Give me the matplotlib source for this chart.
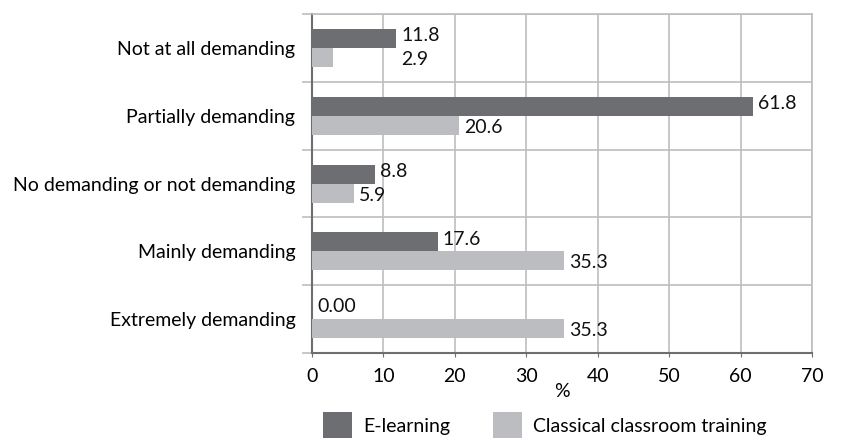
import numpy as np
import matplotlib.pyplot as plt
from matplotlib.patches import Patch

categories = ["Not at all demanding", "Partially demanding",
              "No demanding or not demanding", "Mainly demanding",
              "Extremely demanding"]
elearning = [11.8, 61.8, 8.8, 17.6, 0.0]
classroom = [2.9, 20.6, 5.9, 35.3, 35.3]
elearning_labels = ["11.8", "61.8", "8.8", "17.6", "0.00"]
classroom_labels = ["2.9", "20.6", "5.9", "35.3", "35.3"]

dark = "#6d6e71"
light = "#bcbdc0"
grid_col = "#bebebe"
fs = 14

plt.rcParams['font.family'] = ['Lato', 'DejaVu Sans']

fig = plt.figure(figsize=(8.53, 4.38), dpi=100)
ax = fig.add_axes([0.3658, 0.194, 0.5862, 0.774])

y = np.arange(len(categories))
h = 0.28
ax.barh(y - h / 2, elearning, height=h, color=dark, zorder=3)
ax.barh(y + h / 2, classroom, height=h, color=light, zorder=3)

off = 0.7
for i in range(len(categories)):
    xe = elearning[i] + off
    xc = classroom[i] + off
    # label for the short bar sits next to the longer one when they would collide
    if i == 0:
        xc = xe
    if i == 4:
        xe = off
    ax.text(xe, y[i] - h / 2 - 0.04, elearning_labels[i], va="center",
            ha="left", fontsize=fs, color="#111111", zorder=4)
    ax.text(xc, y[i] + h / 2 + 0.03, classroom_labels[i], va="center",
            ha="left", fontsize=fs, color="#111111", zorder=4)

ax.set_xlim(0, 70)
ax.set_ylim(len(categories) - 0.5, -0.5)
ax.set_xticks(np.arange(0, 71, 10))
ax.set_yticks(y)
ax.set_yticklabels(categories, fontsize=fs)
ax.set_yticks(np.arange(-0.5, len(categories), 1), minor=True)
ax.tick_params(axis="y", which="major", length=0, pad=12)
ax.tick_params(axis="y", which="minor", length=7, color=grid_col, width=1.2)
ax.tick_params(axis="x", length=3, color=dark, labelsize=fs, pad=8)
ax.grid(axis="x", color=grid_col, linewidth=1.2, zorder=0)
ax.grid(axis="y", which="minor", color=grid_col, linewidth=1.2, zorder=0)

for s in ["top", "right"]:
    ax.spines[s].set_color(grid_col)
    ax.spines[s].set_linewidth(1.2)
for s in ["left", "bottom"]:
    ax.spines[s].set_color(dark)
    ax.spines[s].set_linewidth(1.5)

ax.set_xlabel("%", fontsize=fs, labelpad=-2)

handles = [Patch(facecolor=dark, label="E-learning"),
           Patch(facecolor=light, label="Classical classroom training")]
fig.legend(handles=handles, loc="upper left", bbox_to_anchor=(0.379, 0.059),
           ncol=2, frameon=False, fontsize=fs, handlelength=1.5,
           handleheight=1.8, columnspacing=2.2, handletextpad=0.55,
           borderaxespad=0, borderpad=0)

fig.savefig("out.png", dpi=100)
